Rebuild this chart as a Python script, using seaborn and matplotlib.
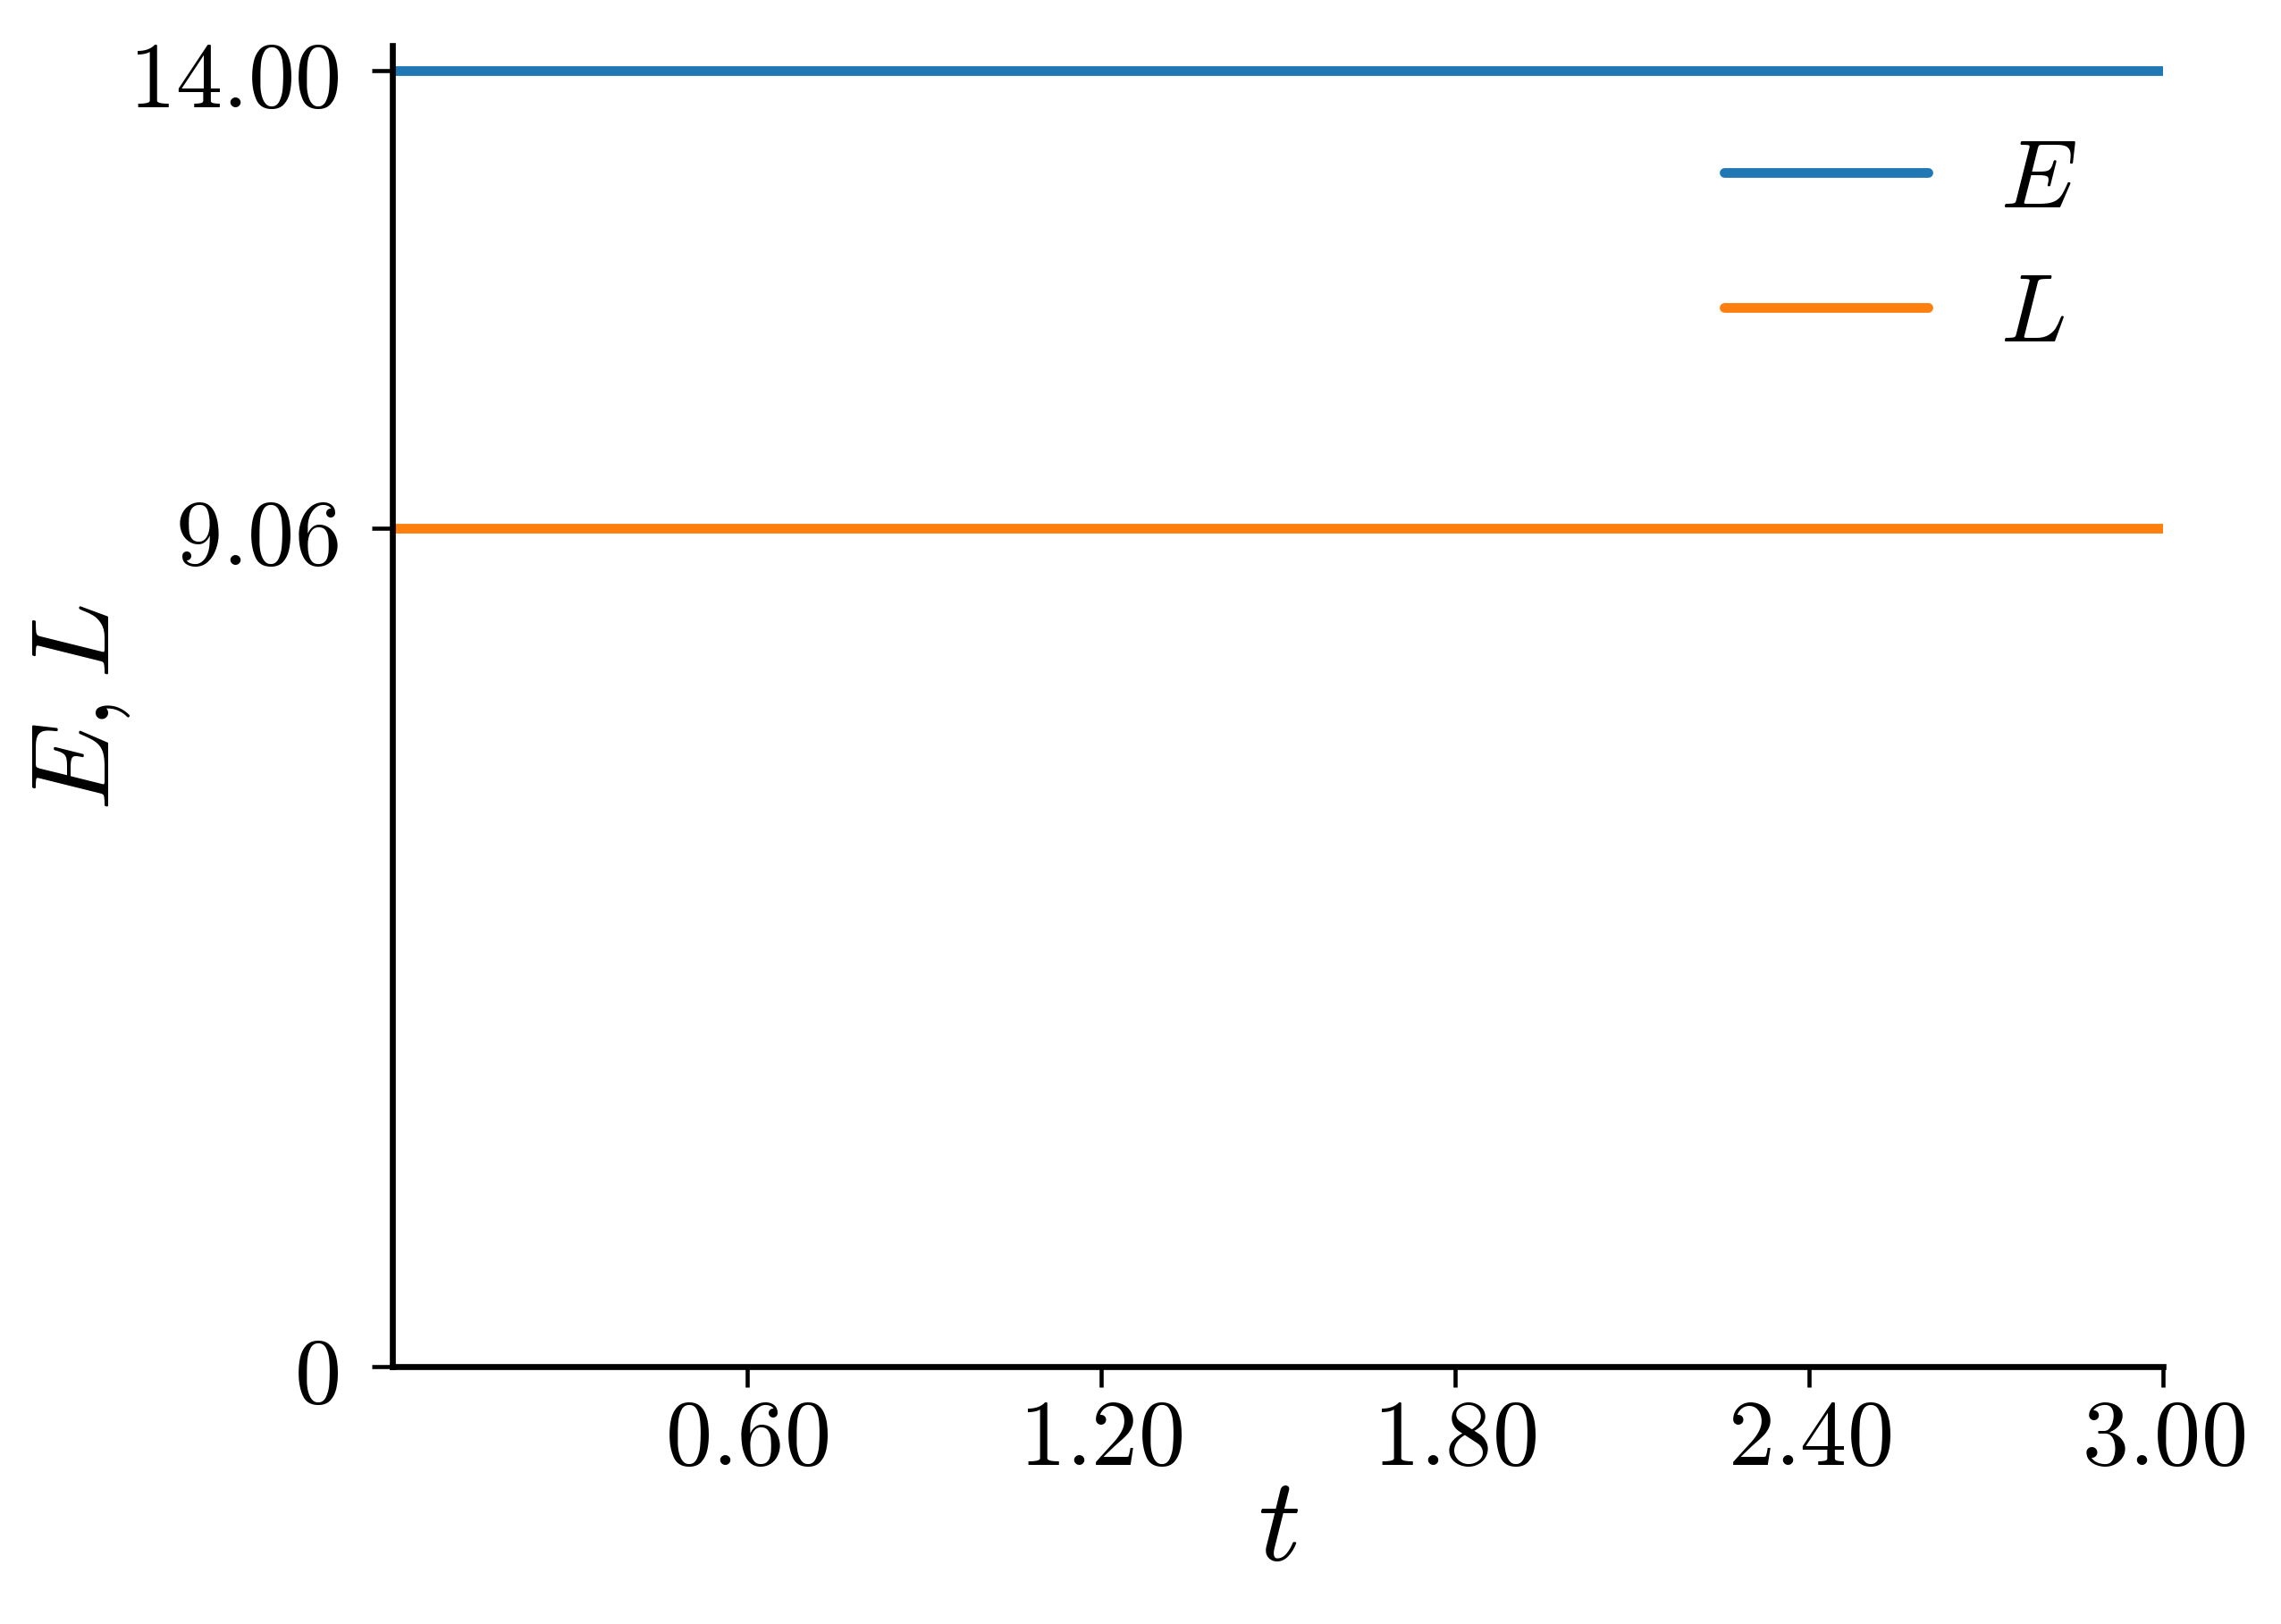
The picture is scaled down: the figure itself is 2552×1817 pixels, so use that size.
import matplotlib
matplotlib.use("Agg")
import matplotlib.pyplot as plt
import pandas as pd
import seaborn as sns

# data
t = [0.0, 0.6, 1.2, 1.8, 2.4, 3.0]
E = [14.00, 14.00, 14.00, 14.00, 14.00, 14.00]
L = [9.06, 9.06, 9.06, 9.06, 9.06, 9.06]
series_names = ["$E$", "$L$"]

x_ticks = [0.60, 1.20, 1.80, 2.40, 3.00]
x_tick_labels = ["$0.60$", "$1.20$", "$1.80$", "$2.40$", "$3.00$"]
y_ticks = [0, 9.06, 14.00]
y_tick_labels = ["$0$", "$9.06$", "$14.00$"]

sns.set_style("ticks")
plt.rcParams["mathtext.fontset"] = "cm"
plt.rcParams["font.family"] = ["DejaVu Serif"]
for key in ["text.color", "axes.labelcolor", "xtick.color", "ytick.color",
            "axes.edgecolor"]:
    plt.rcParams[key] = "black"

df = pd.concat([
    pd.DataFrame({"t": t, "value": E, "series": series_names[0]}),
    pd.DataFrame({"t": t, "value": L, "series": series_names[1]}),
])

fig = plt.figure(figsize=(8.507, 6.06), dpi=300)
ax = fig.add_axes([0.1722, 0.1584, 0.9483 - 0.1722, 0.9714 - 0.1584])

sns.lineplot(data=df, x="t", y="value", hue="series",
             palette=["#1f77b4", "#ff7f0e"], linewidth=2.6, ax=ax)

ax.set_xlim(0, 3.0)
ax.set_ylim(0, 14.27)
ax.set_xticks(x_ticks, labels=x_tick_labels)
ax.set_yticks(y_ticks, labels=y_tick_labels)
ax.tick_params(axis="both", labelsize=25, width=1.1, length=5.5)
ax.tick_params(axis="x", pad=1.5)
ax.tick_params(axis="y", pad=9)
for s in ["left", "bottom"]:
    ax.spines[s].set_linewidth(1.6)
sns.despine(ax=ax)

ax.set_xlabel("$t$", fontsize=32, labelpad=-4)
ax.set_ylabel("$E,L$", fontsize=30, labelpad=-1)

leg = ax.legend(loc="upper right", frameon=False, fontsize=26,
                handlelength=2.1, handletextpad=0.75, labelspacing=0.42,
                bbox_to_anchor=(1.0, 1.0))
for line in leg.get_lines():
    line.set_linewidth(2.6)

fig.savefig("out.png", dpi=300)
